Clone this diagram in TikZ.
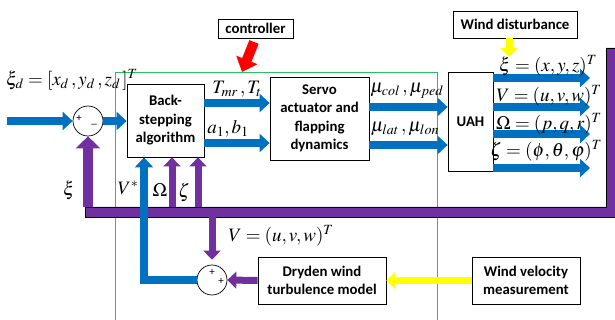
\documentclass[tikz,border=0pt]{standalone}
\usepackage{mathptmx}
\usepackage{fontspec}
\setmainfont{Carlito}
\usetikzlibrary{arrows.meta}

\definecolor{ablue}{RGB}{0,112,192}
\definecolor{apurple}{RGB}{112,48,160}
\definecolor{ayellow}{RGB}{255,255,0}
\definecolor{ared}{RGB}{255,0,0}
\definecolor{agreen}{RGB}{40,190,100}

\tikzset{
  blk/.style={draw,fill=white,line width=0.8pt,inner sep=0pt,align=center,
    font=\bfseries\fontsize{14.8}{18.5}\selectfont},
  sumc/.style={circle,draw,fill=white,line width=0.7pt,minimum size=30pt,inner sep=0pt},
  mlab/.style={inner sep=0pt,font=\fontsize{19}{19}\selectfont},
  sgn/.style={inner sep=0pt,font=\fontsize{11}{11}\selectfont},
  barrow/.style={draw=ablue,line width=8pt,-{Triangle[width=18pt,length=10pt]}},
  parrow/.style={draw=apurple,line width=7pt,-{Triangle[width=17pt,length=9pt]}},
  pbigarrow/.style={draw=apurple,line width=10pt,-{Triangle[width=24pt,length=12pt]}},
  yarrow/.style={draw=ayellow,line width=7pt,-{Triangle[width=17pt,length=9pt]}},
  rarrow/.style={draw=ared,line width=10pt,-{Triangle[width=22pt,length=13pt]}}
}

\begin{document}
\begin{tikzpicture}[x=1pt,y=-1pt]
  \useasboundingbox (0,0) rectangle (615,320);

  % controller frame
  \draw[agreen,line width=1pt] (115,321) -- (115,73) -- (437,73) -- (437,321);

  % blocks
  \node[blk,minimum width=77pt,minimum height=73pt] (bs) at (165.5,120.5) {Back-\\stepping\\algorithm};
  \node[blk,minimum width=99pt,minimum height=83pt] (sv) at (319.5,118.5) {Servo\\actuator and\\flapping\\dynamics};
  \node[blk,minimum width=45pt,minimum height=99pt] (uah) at (470.5,121.5) {UAH};
  \node[blk,minimum width=75pt,minimum height=19pt] (ctrl) at (255.5,28.5) {controller};
  \node[blk,minimum width=124pt,minimum height=27pt] (wd) at (515,24.5) {Wind disturbance};
  \node[blk,minimum width=128pt,minimum height=47pt] (dry) at (322,280.5) {Dryden wind\\turbulence model};
  \node[blk,minimum width=108pt,minimum height=47pt] (wvm) at (526,280.5) {Wind velocity\\measurement};

  \node[sumc] (sum1) at (88,121) {};
  \node[sumc] (sum2) at (212,280) {};
  \node[sgn] (s1a) at (79,118) {+};
  \node[sgn] (s1b) at (94,124) {\_};
  \node[sgn] (s2a) at (212,272) {+};
  \node[sgn] (s2b) at (221,281) {+};

  % feedback bar
  \filldraw[fill=apurple,draw=black,line width=0.6pt]
    (85,207) -- (606,207) -- (606,48) -- (615,48) -- (615,217) -- (85,217) -- cycle;

  % forward path
  \coordinate (in) at (7,121);
  \draw[barrow] (in) -- (sum1.west);
  \draw[barrow] (sum1.east) -- (bs.west |- sum1.east);
  \foreach \y in {103,143}
    \draw[barrow] (bs.east |- 0,\y) -- (sv.west |- 0,\y);
  \foreach \y in {107,145}
    \draw[barrow] (sv.east |- 0,\y) -- (uah.west |- 0,\y);
  \foreach \y [count=\i] in {78,107,134,168} {
    \coordinate (out\i) at (590,\y);
    \draw[barrow] (uah.east |- out\i) -- (out\i);
  }

  % feedback arrows
  \draw[pbigarrow] (sum1.south |- 0,207) -- (sum1.south);
  \foreach \dx in {6.5,32.5}
    \draw[parrow] ([xshift=\dx pt]bs.south |- 0,207) -- ([xshift=\dx pt]bs.south);
  \draw[parrow] (sum2.north |- 0,217) -- ([yshift=5pt]sum2.north);
  \draw[barrow] (sum2.west) -| ([xshift=-21.5pt]bs.south);
  \draw[parrow] (dry.west) -- (sum2.east);
  \draw[yarrow] (wvm.west) -- (dry.east);

  % disturbances
  \coordinate (wdtip) at (509,57);
  \draw[yarrow] (wd.south -| wdtip) -- (wdtip);
  \coordinate (rtail) at (254,42);
  \coordinate (rtip) at (242,72);
  \draw[rarrow] (rtail) -- (rtip);

  % labels
  \node[mlab] (lxid) at (72,80) {$\xi_d = [x_d\,, y_d\,, z_d\,]^T$};
  \node[mlab] (ltmr) at (237,89) {$T_{mr}\,, T_t$};
  \node[mlab] (lab) at (228,129) {$a_1, b_1$};
  \node[mlab] (lmu1) at (407,91) {$\mu_{col}\,, \mu_{ped}$};
  \node[mlab] (lmu2) at (405,129) {$\mu_{lat}\,, \mu_{lon}$};
  \node[mlab] (lxi) at (548,66) {$\xi = (x, y, z)^T$};
  \node[mlab] (lv) at (549,96) {$V = (u, v, w)^T$};
  \node[mlab] (lom) at (549,124) {$\Omega = (p, q, r)^T$};
  \node[mlab] (lze) at (546,151) {$\zeta = (\phi, \theta, \varphi)^T$};
  \node[mlab] (lfxi) at (69,190) {$\xi$};
  \node[mlab] (lvs) at (128,188) {$V^*$};
  \node[mlab] (lfom) at (160,190) {$\Omega$};
  \node[mlab] (lfze) at (184,192) {$\zeta$};
  \node[mlab] (lvw) at (281,236) {$V = (u, v, w)^T$};
\end{tikzpicture}
\end{document}
